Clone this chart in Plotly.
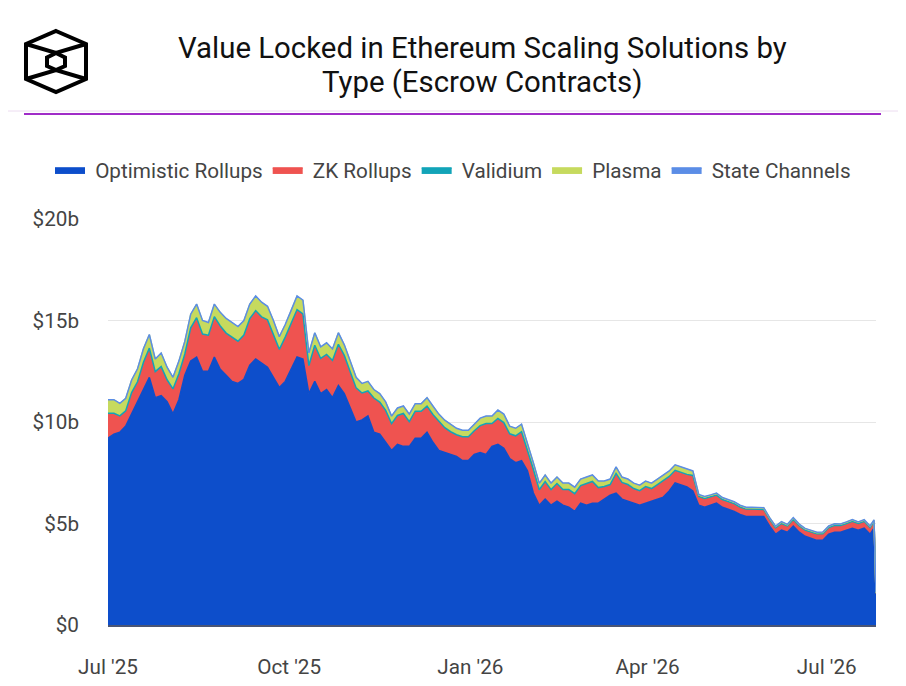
import pandas as pd
import plotly.graph_objects as go

#Sample dates: every 3 days, plus the last two days of the series
dates = list(pd.date_range("2025-07-01", "2026-07-23", freq="3D")) + [pd.Timestamp("2026-07-25"), pd.Timestamp("2026-07-26")]

#Value locked per type, in $b
optimistic = [
    9.2, 9.4, 9.5, 9.8, 10.4, 11.0, 11.6, 12.2, 11.2, 11.3,
    11.0, 10.4, 11.1, 12.3, 13.0, 13.2, 12.5, 12.5, 13.2, 12.6,
    12.3, 12.0, 11.9, 12.1, 12.8, 13.1, 12.9, 12.7, 12.2, 11.7,
    12.0, 12.6, 13.2, 13.1, 11.4, 12.0, 11.4, 11.6, 11.2, 11.8,
    11.4, 10.7, 10.0, 10.1, 10.3, 9.5, 9.4, 9.0, 8.6, 8.9,
    8.8, 8.8, 9.2, 9.2, 9.5, 9.0, 8.6, 8.5, 8.4, 8.3,
    8.1, 8.1, 8.4, 8.5, 8.4, 8.8, 8.9, 8.7, 8.2, 8.0,
    8.1, 7.6, 6.5, 5.9, 6.2, 5.9, 6.1, 5.9, 5.8, 5.6,
    6.0, 5.9, 6.0, 6.0, 6.2, 6.4, 6.5, 6.2, 6.1, 6.0,
    5.9, 6.0, 6.1, 6.2, 6.3, 6.6, 7.0, 6.9, 6.8, 6.6,
    5.9, 5.8, 5.9, 6.0, 5.8, 5.7, 5.6, 5.45, 5.35, 5.35,
    5.35, 5.35, 4.87, 4.47, 4.67, 4.57, 4.87, 4.57, 4.37, 4.27,
    4.17, 4.17, 4.47, 4.57, 4.57, 4.67, 4.77, 4.67, 4.77, 4.47,
    4.77, 1.5,
]
zk = [
    1.18, 0.98, 0.75, 0.7, 1.0, 0.93, 1.28, 1.38, 1.23, 1.38,
    1.03, 1.18, 1.23, 1.0, 1.58, 1.88, 1.78, 1.73, 1.93, 2.08,
    2.03, 2.13, 2.03, 2.13, 2.23, 2.33, 2.23, 2.28, 2.08, 1.83,
    2.13, 2.18, 2.28, 2.18, 1.33, 1.73, 1.68, 1.68, 1.78, 1.98,
    1.83, 1.73, 1.63, 1.28, 1.18, 1.63, 1.53, 1.53, 1.28, 1.38,
    1.58, 1.18, 1.28, 1.28, 1.23, 1.33, 1.38, 1.18, 1.08, 1.03,
    1.13, 1.13, 1.13, 1.28, 1.48, 1.08, 1.23, 1.23, 1.18, 1.28,
    1.38, 0.98, 1.13, 0.73, 0.83, 0.73, 0.83, 0.73, 0.83, 0.83,
    0.83, 1.03, 1.03, 0.73, 0.58, 0.48, 0.93, 0.78, 0.78, 0.68,
    0.68, 0.78, 0.58, 0.68, 0.78, 0.68, 0.58, 0.58, 0.58, 0.73,
    0.4, 0.4, 0.38, 0.37, 0.35, 0.35, 0.35, 0.33, 0.33, 0.33,
    0.32, 0.31, 0.3, 0.29, 0.3, 0.28, 0.3, 0.29, 0.28, 0.3,
    0.29, 0.3, 0.3, 0.31, 0.3, 0.3, 0.31, 0.3, 0.31, 0.3,
    0.3, 0.05,
]
validium = [
    0.05, 0.05, 0.05, 0.05, 0.05, 0.05, 0.06, 0.06, 0.05, 0.05,
    0.05, 0.05, 0.05, 0.05, 0.06, 0.06, 0.05, 0.05, 0.06, 0.05,
    0.05, 0.05, 0.05, 0.05, 0.06, 0.06, 0.05, 0.05, 0.05, 0.05,
    0.05, 0.05, 0.06, 0.05, 0.05, 0.05, 0.05, 0.05, 0.05, 0.05,
    0.05, 0.05, 0.05, 0.05, 0.05, 0.05, 0.05, 0.04, 0.04, 0.04,
    0.04, 0.04, 0.05, 0.05, 0.05, 0.04, 0.04, 0.04, 0.04, 0.04,
    0.04, 0.04, 0.04, 0.04, 0.04, 0.04, 0.04, 0.04, 0.04, 0.04,
    0.04, 0.04, 0.04, 0.03, 0.04, 0.04, 0.04, 0.04, 0.04, 0.04,
    0.04, 0.04, 0.04, 0.04, 0.04, 0.04, 0.04, 0.04, 0.04, 0.04,
    0.04, 0.04, 0.04, 0.04, 0.04, 0.04, 0.04, 0.04, 0.04, 0.04,
    0.03, 0.03, 0.03, 0.03, 0.03, 0.03, 0.03, 0.03, 0.03, 0.03,
    0.03, 0.03, 0.03, 0.03, 0.03, 0.03, 0.03, 0.03, 0.03, 0.03,
    0.03, 0.03, 0.03, 0.03, 0.03, 0.03, 0.03, 0.03, 0.03, 0.03,
    0.03, 0.01,
]
plasma = [
    0.65, 0.65, 0.6, 0.6, 0.6, 0.62, 0.65, 0.65, 0.6, 0.65,
    0.6, 0.55, 0.6, 0.6, 0.65, 0.65, 0.65, 0.6, 0.6, 0.65,
    0.7, 0.7, 0.7, 0.7, 0.7, 0.7, 0.7, 0.65, 0.65, 0.6,
    0.6, 0.65, 0.65, 0.65, 0.6, 0.6, 0.55, 0.55, 0.55, 0.55,
    0.5, 0.5, 0.5, 0.45, 0.45, 0.4, 0.4, 0.4, 0.35, 0.35,
    0.35, 0.35, 0.35, 0.35, 0.4, 0.4, 0.35, 0.35, 0.35, 0.3,
    0.3, 0.3, 0.3, 0.35, 0.35, 0.35, 0.4, 0.4, 0.35, 0.35,
    0.35, 0.35, 0.3, 0.3, 0.3, 0.3, 0.3, 0.3, 0.3, 0.3,
    0.3, 0.3, 0.3, 0.3, 0.25, 0.25, 0.3, 0.25, 0.25, 0.25,
    0.25, 0.25, 0.25, 0.25, 0.25, 0.25, 0.25, 0.25, 0.25, 0.2,
    0.08, 0.08, 0.08, 0.08, 0.08, 0.07, 0.07, 0.07, 0.07, 0.07,
    0.07, 0.07, 0.07, 0.06, 0.07, 0.06, 0.07, 0.06, 0.06, 0.06,
    0.06, 0.06, 0.06, 0.06, 0.06, 0.06, 0.06, 0.06, 0.06, 0.06,
    0.06, 0.02,
]
state_channels = [
    0.02, 0.02, 0.02, 0.02, 0.02, 0.02, 0.02, 0.02, 0.02, 0.02,
    0.02, 0.02, 0.02, 0.02, 0.02, 0.02, 0.02, 0.02, 0.02, 0.02,
    0.02, 0.02, 0.02, 0.02, 0.02, 0.02, 0.02, 0.02, 0.02, 0.02,
    0.02, 0.02, 0.02, 0.02, 0.02, 0.02, 0.02, 0.02, 0.02, 0.02,
    0.02, 0.02, 0.02, 0.02, 0.02, 0.02, 0.02, 0.02, 0.02, 0.02,
    0.02, 0.02, 0.02, 0.02, 0.02, 0.02, 0.02, 0.02, 0.02, 0.02,
    0.02, 0.02, 0.02, 0.02, 0.02, 0.02, 0.02, 0.02, 0.02, 0.02,
    0.02, 0.02, 0.02, 0.02, 0.02, 0.02, 0.02, 0.02, 0.02, 0.02,
    0.02, 0.02, 0.02, 0.02, 0.02, 0.02, 0.02, 0.02, 0.02, 0.02,
    0.02, 0.02, 0.02, 0.02, 0.02, 0.02, 0.02, 0.02, 0.02, 0.02,
    0.02, 0.02, 0.02, 0.02, 0.02, 0.02, 0.02, 0.02, 0.02, 0.02,
    0.02, 0.02, 0.02, 0.02, 0.02, 0.02, 0.02, 0.02, 0.02, 0.02,
    0.02, 0.02, 0.02, 0.02, 0.02, 0.02, 0.02, 0.02, 0.02, 0.02,
    0.02, 0.02,
]

names = ["Optimistic Rollups", "ZK Rollups", "Validium", "Plasma", "State Channels"]
colors = ["#0d4ecb", "#ef5350", "#12a4b8", "#c6da5e", "#5b8de6"]

x_ticks = ["2025-07-01", "2025-10-01", "2026-01-01", "2026-04-01", "2026-07-01"]
x_labels = ["Jul '25", "Oct '25", "Jan '26", "Apr '26", "Jul '26"]
y_ticks = [0, 5, 10, 15, 20]
y_labels = ["$0", "$5b", "$10b", "$15b", "$20b"]

title_lines = ["Value Locked in Ethereum Scaling Solutions by", "Type (Escrow Contracts)"]

#Figure size and margins; the page body adds an 8px offset on screen
W, H = 906, 686
ML, MR, MT, MB = 100, 38, 211, 69
PLOT_L, PLOT_B = 108, 625  # plot left / bottom as seen on screen
PLOT_W, PLOT_H = W - ML - MR, H - MT - MB


def paper(x, y):
    #screen pixel -> paper coordinates
    return (x - PLOT_L) / PLOT_W, (PLOT_B - y) / PLOT_H


fig = go.Figure()
for name, values, color in zip(names, [optimistic, zk, validium, plasma, state_channels], colors):
    fig.add_trace(go.Scatter(x=dates, y=values, name="\u00a0" + name, mode="lines", stackgroup="one",
                             line=dict(color=color, width=1.5), fillcolor=color))

#Logo: hexagon with a cube drawn inside
hexagon = [(56, 31), (86, 44), (86, 79), (56, 92), (26, 79), (26, 44)]
inner = [(56, 53), (65, 57.5), (65, 66), (56, 70), (47, 66), (47, 57.5)]


def path(points, close=False):
    pts = [paper(x, y) for x, y in points]
    s = "M %f,%f " % pts[0] + " ".join("L %f,%f" % p for p in pts[1:])
    return s + (" Z" if close else "")


logo_paths = [
    path(hexagon, close=True),
    path(inner, close=True),
    path([(26, 44), (56, 53), (86, 44)]),
    path([(26, 79), (56, 70), (86, 79)]),
]
shapes = [dict(type="path", path=p, xref="paper", yref="paper",
               line=dict(color="#000000", width=4)) for p in logo_paths]

#Header rules
x0, y0 = paper(0, 111)
x1, _ = paper(W, 111)
shapes.append(dict(type="line", xref="paper", yref="paper", x0=x0, x1=x1, y0=y0, y1=y0,
                   line=dict(color="#ecdcf0", width=1)))
x0, y0 = paper(24, 114)
x1, _ = paper(881, 114)
shapes.append(dict(type="line", xref="paper", yref="paper", x0=x0, x1=x1, y0=y0, y1=y0,
                   line=dict(color="#a02cc8", width=2)))

#Title, one annotation per line
annotations = []
for text, ty in zip(title_lines, [48, 82]):
    ax, ay = paper(482, ty)
    annotations.append(dict(text=text, x=ax, y=ay, xref="paper", yref="paper", showarrow=False,
                            xanchor="center", yanchor="middle",
                            font=dict(family="Roboto", size=29.4, color="#111111")))

#Legend: left of the plot area so it may use the left margin width too
legend_x, legend_y = paper(50, 170)

fig.update_layout(
    width=W, height=H,
    margin=dict(l=ML, r=MR, t=MT, b=MB, autoexpand=False),
    paper_bgcolor="white", plot_bgcolor="white",
    font=dict(family="Roboto", size=20.7, color="#444444"),
    legend=dict(orientation="h", x=legend_x, y=legend_y, xanchor="left", yanchor="middle",
                font=dict(size=20.7, color="#444444"), bgcolor="rgba(0,0,0,0)", traceorder="normal"),
    xaxis=dict(type="date", range=[dates[0], dates[-1]], tickvals=x_ticks, ticktext=x_labels,
               showgrid=False, zeroline=False, showline=True, linecolor="#4a5574", linewidth=2,
               ticks="", ticklabelstandoff=22, tickangle=0, tickfont=dict(size=20.7, color="#444444")),
    yaxis=dict(range=[0, 20], tickvals=y_ticks, ticktext=y_labels, showgrid=True,
               gridcolor="#e6e6e6", gridwidth=1, zeroline=False, ticks="",
               ticklabelstandoff=28, tickfont=dict(size=20.7, color="#444444")),
    shapes=shapes,
    annotations=annotations,
    showlegend=True,
    hovermode="x unified",
)

fig.write_html("out.html")
